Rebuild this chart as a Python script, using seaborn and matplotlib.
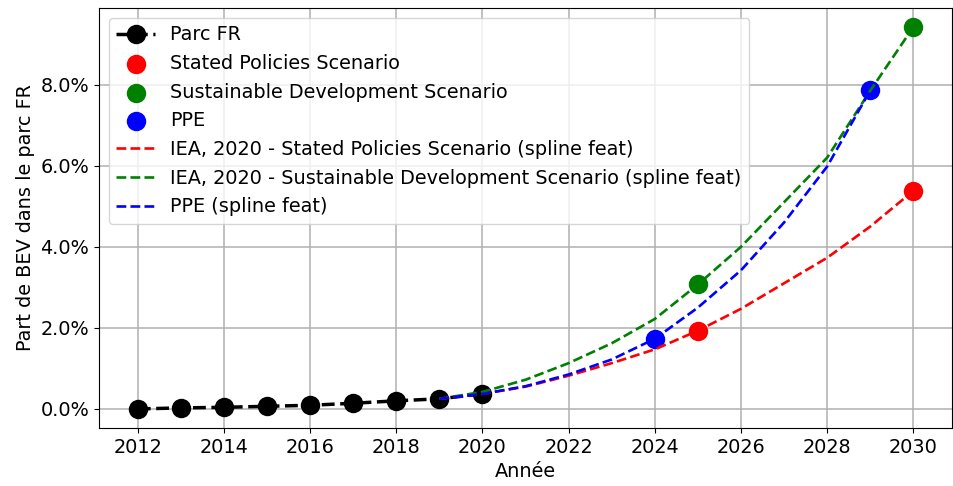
import matplotlib
matplotlib.use('Agg')
import matplotlib.pyplot as plt
import numpy as np
import pandas as pd
import seaborn as sns
from matplotlib.ticker import PercentFormatter

# part de BEV dans le parc FR (%)
parc_years = [2012, 2013, 2014, 2015, 2016, 2017, 2018, 2019, 2020]
parc_share = [0.0, 0.025, 0.04, 0.065, 0.09, 0.14, 0.20, 0.25, 0.37]

steps_years = [2025, 2030]
steps_share = [1.93, 5.38]
sds_years = [2025, 2030]
sds_share = [3.07, 9.42]
ppe_years = [2024, 2029]
ppe_share = [1.73, 7.86]

# spline curves
spline_years = [2019, 2020, 2021, 2022, 2023, 2024, 2025, 2026, 2027, 2028, 2029, 2030]
steps_spline = [0.25, 0.37, 0.55, 0.82, 1.13, 1.47, 1.93, 2.47, 3.10, 3.73, 4.50, 5.38]
sds_spline = [0.25, 0.42, 0.72, 1.13, 1.62, 2.22, 3.07, 4.00, 5.10, 6.20, 7.85, 9.42]
ppe_spline_years = spline_years[:-1]
ppe_spline = [0.25, 0.37, 0.56, 0.85, 1.22, 1.73, 2.50, 3.42, 4.60, 5.98, 7.86]

plt.rcParams['font.size'] = 13.9

fig = plt.figure(figsize=(9.54, 4.86), dpi=100)
ax = fig.add_axes([0.1038, 0.1193, 0.8942, 0.8642])

ms = 14
sns.lineplot(x=parc_years, y=parc_share, ax=ax, color='black', linestyle='--',
             linewidth=2.5, marker='o', markersize=ms, markeredgewidth=0,
             label='Parc FR')
sns.scatterplot(x=steps_years, y=steps_share, ax=ax, color='red', s=ms ** 2,
                linewidth=0, label='Stated Policies Scenario')
sns.scatterplot(x=sds_years, y=sds_share, ax=ax, color='green', s=ms ** 2,
                linewidth=0, label='Sustainable Development Scenario')
sns.scatterplot(x=ppe_years, y=ppe_share, ax=ax, color='blue', s=ms ** 2,
                linewidth=0, label='PPE')
sns.lineplot(x=spline_years, y=steps_spline, ax=ax, color='red', linestyle='--',
             linewidth=1.9, label='IEA, 2020 - Stated Policies Scenario (spline feat)')
sns.lineplot(x=spline_years, y=sds_spline, ax=ax, color='green', linestyle='--',
             linewidth=1.9, label='IEA, 2020 - Sustainable Development Scenario (spline feat)')
sns.lineplot(x=ppe_spline_years, y=ppe_spline, ax=ax, color='blue', linestyle='--',
             linewidth=1.9, label='PPE (spline feat)')

ax.set_xticks(range(2012, 2031, 2))
ax.yaxis.set_major_formatter(PercentFormatter(xmax=100, decimals=1))
ax.grid(True, color='#b0b0b0', linewidth=1.1)
ax.set_axisbelow(True)
ax.set_xlabel('Année')
ax.set_ylabel('Part de BEV dans le parc FR')
ax.legend(loc='upper left')

fig.savefig('out.png', dpi=100)
